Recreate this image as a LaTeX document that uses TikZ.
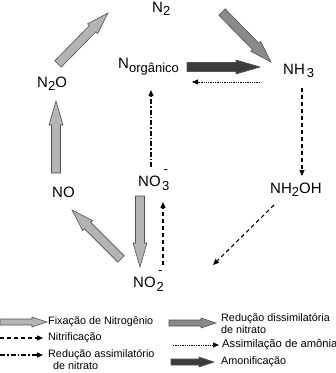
\documentclass[tikz,border=0pt]{standalone}
\usepackage{fontspec}
\setmainfont{Liberation Sans}
\usetikzlibrary{calc,arrows.meta}
\definecolor{lightg}{HTML}{B4B4B4}
\definecolor{midg}{HTML}{8A8A8A}
\definecolor{darkg}{HTML}{3C3C3C}
\definecolor{edgeg}{HTML}{505050}
\newcommand\lo[1]{\raisebox{-3.5pt}{\fontsize{13}{13}\selectfont #1}}
\newcommand\ionlo[1]{\raisebox{-4pt}{\fontsize{13}{13}\selectfont\ooalign{#1\cr\hidewidth\raisebox{17pt}{-}\hidewidth\cr}}}
% #1 tail, #2 tip, #3 fill, #4 shaft half width, #5 head half width, #6 head length
\newcommand\fatarrow[6]{%
  \coordinate (fah) at ($(#2)!#6!(#1)$);
  \path[fill=#3,draw=edgeg,line width=0.6pt,line join=miter]
    ($(#1)!#4!90:(#2)$) -- ($(fah)!#4!90:(#2)$) -- ($(fah)!#5!90:(#2)$) -- (#2)
    -- ($(fah)!#5!-90:(#2)$) -- ($(fah)!#4!-90:(#2)$) -- ($(#1)!#4!-90:(#2)$) -- cycle;
}
\begin{document}
\begin{tikzpicture}[x=1pt,y=-1pt,
  lbl/.style={inner sep=0pt,anchor=base west,font=\fontsize{15}{15}\selectfont},
  leg/.style={inner sep=0pt,anchor=west,align=left,font=\fontsize{10.8}{12}\selectfont},
  tip/.style={-{Triangle[length=6pt,width=5pt]}},
  dasharr/.style={tip,line width=1.1pt,dash pattern=on 4pt off 3pt},
  dotarr/.style={tip,line width=0.9pt,dash pattern=on 1.3pt off 1pt},
  dashdotarr/.style={tip,line width=1.1pt,dash pattern=on 5pt off 2pt on 1.5pt off 2pt}]
\useasboundingbox (0,0) rectangle (336,373);

% nodes
\node[lbl] (n2) at (152,12) {N\lo{2}};
\node[lbl] (n2o) at (37,87) {N\lo{2}O};
\node[lbl] (norg) at (118,68) {N\raisebox{-4pt}{\fontsize{13}{13}\selectfont orgânico}};
\node[lbl] (nh3) at (283,74) {NH\hspace{2pt}\lo{3}};
\node[lbl] (no) at (52,197) {NO};
\node[lbl] (no3) at (138,186) {NO\hspace{1.5pt}\ionlo{3}};
\node[lbl] (nh2oh) at (270,193) {NH\lo{2}OH};
\node[lbl] (no2) at (133,287) {NO\hspace{1pt}\ionlo{2}};

% connector end points
\coordinate (n2o-a) at (58,64);   \coordinate (n2-a) at (108,13);
\coordinate (n2-b) at (222,12);   \coordinate (nh3-a) at (271,62);
\coordinate (norg-a) at (187,67); \coordinate (nh3-b) at (260,67);
\coordinate (nh3-c) at (260,82);  \coordinate (norg-b) at (192,82);
\coordinate (nh3-d) at (302,88);  \coordinate (nh2oh-a) at (302,176);
\coordinate (no-a) at (56,173);   \coordinate (n2o-b) at (56,101);
\coordinate (no3-a) at (151,167); \coordinate (norg-c) at (151,90);
\coordinate (no3-b) at (140,196); \coordinate (no2-a) at (140,267);
\coordinate (no2-b) at (163,265); \coordinate (no3-c) at (163,202);
\coordinate (no2-c) at (121,259); \coordinate (no-b) at (72,210);
\coordinate (nh2oh-b) at (274,205); \coordinate (end-a) at (213,265);

% fat arrows
\fatarrow{n2o-a}{n2-a}{lightg}{4.5pt}{7pt}{22pt}
\fatarrow{n2-b}{nh3-a}{midg}{4.5pt}{7pt}{22pt}
\fatarrow{norg-a}{nh3-b}{darkg}{4.5pt}{7pt}{24pt}
\fatarrow{no-a}{n2o-b}{lightg}{4.5pt}{7pt}{24pt}
\fatarrow{no3-b}{no2-a}{lightg}{4.5pt}{7pt}{24pt}
\fatarrow{no2-c}{no-b}{lightg}{4.5pt}{7pt}{22pt}

% line arrows
\draw[dotarr] (nh3-c) -- (norg-b);
\draw[dasharr] (nh3-d) -- (nh2oh-a);
\draw[dashdotarr] (no3-a) -- (norg-c);
\draw[dasharr] (no2-b) -- (no3-c);
\draw[dasharr] (nh2oh-b) -- (end-a);

% legend
\coordinate (l1a) at (0,322);   \coordinate (l1b) at (47,322);
\coordinate (l2a) at (0,338);   \coordinate (l2b) at (43,338);
\coordinate (l3a) at (0,355);   \coordinate (l3b) at (43,355);
\coordinate (r1a) at (169,323); \coordinate (r1b) at (216,323);
\coordinate (r2a) at (173,345); \coordinate (r2b) at (219,345);
\coordinate (r3a) at (171,362); \coordinate (r3b) at (214,362);
\fatarrow{l1a}{l1b}{lightg}{3pt}{5pt}{15pt}
\draw[dasharr] (l2a) -- (l2b);
\draw[dashdotarr] (l3a) -- (l3b);
\fatarrow{r1a}{r1b}{midg}{3pt}{5pt}{15pt}
\draw[dotarr] (r2a) -- (r2b);
\fatarrow{r3a}{r3b}{darkg}{3pt}{5pt}{15pt}

\node[leg] (t1) at (48,322) {Fixação de Nitrogênio};
\node[leg] (t2) at (48,338) {Nitrificação};
\node[leg,anchor=north west] (t3) at (48,349) {Redução assimilatório\\\hspace*{5pt}de nitrato};
\node[leg,anchor=north west] (t4) at (221,313) {Redução dissimilatória\\de nitrato};
\node[leg,font=\fontsize{11.2}{12}\selectfont] (t5) at (222,345) {Assimilação de amônia};
\node[leg] (t6) at (221,362) {Amonificação};
\end{tikzpicture}
\end{document}
